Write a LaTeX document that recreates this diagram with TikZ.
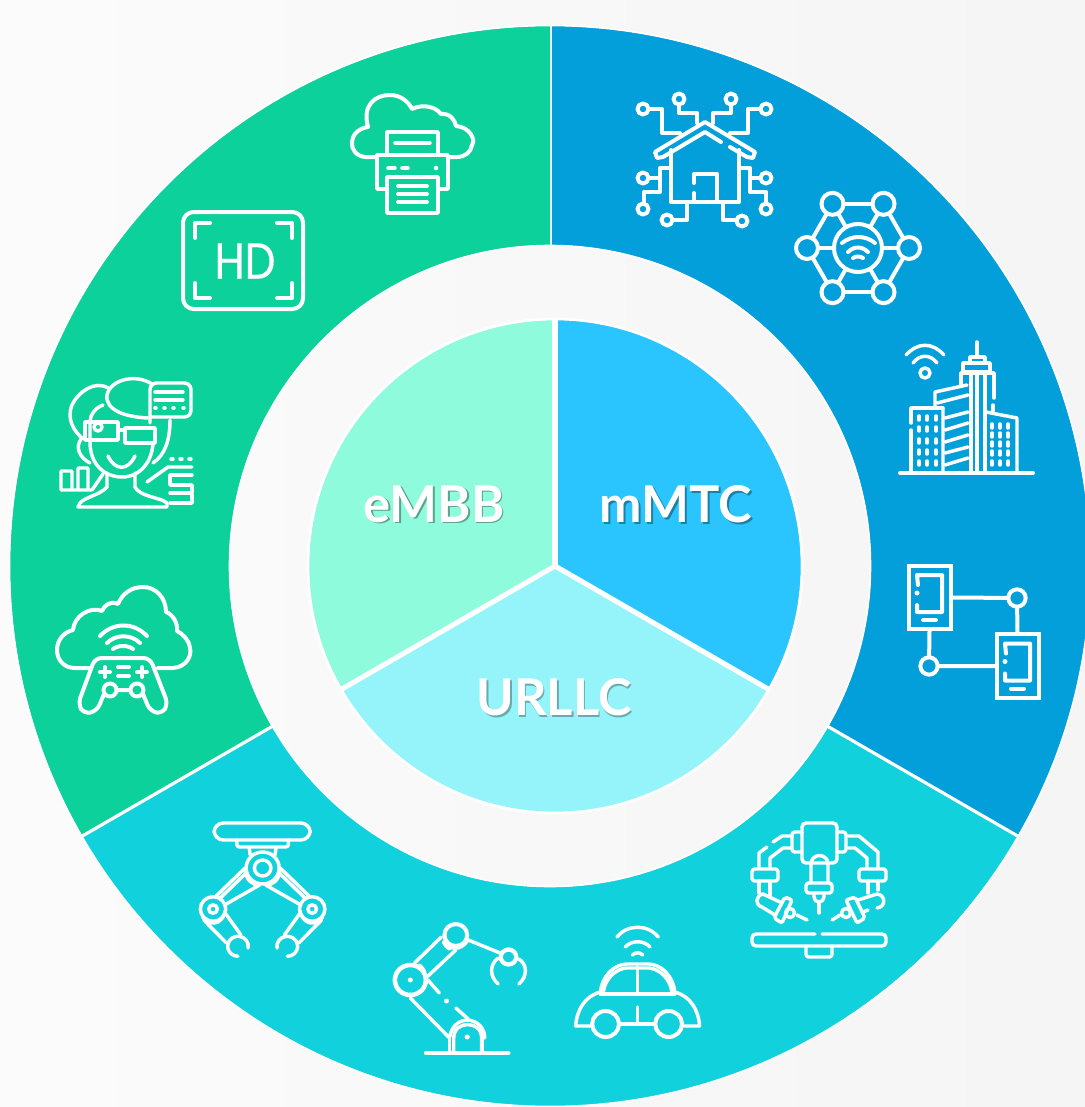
\documentclass[tikz,border=0pt]{standalone}
\usepackage{fontspec}
\setmainfont{Lato}
\newfontfamily\hdfont[FakeStretch=0.86,FakeBold=0.35]{Poppins}
\definecolor{ringgreen}{HTML}{0DD19A}
\definecolor{ringblue}{HTML}{039FDB}
\definecolor{ringteal}{HTML}{11D1DD}
\definecolor{coregreen}{HTML}{8DFBDC}
\definecolor{coreblue}{HTML}{2AC5FF}
\definecolor{coreteal}{HTML}{94F4FA}
\newcommand{\liftedtext}[2]{\leavevmode\rlap{\raisebox{-1.2pt}{\hspace{1.2pt}\textcolor{#1}{#2}}}\textcolor{white}{#2}}
\begin{document}
\begin{tikzpicture}[
		x=0.75pt,y=-0.75pt,
		icon/.style={draw=white,line width=3pt,line cap=round,line join=round},
		thinicon/.style={icon,line width=2.6pt},
		gap/.style={draw=white,line width=2.4pt},
		stretched/.style={shift={(180,0)},xscale=1.033,shift={(-180,0)}},
		corelabel/.style={font=\bfseries\fontsize{38}{38}\selectfont,inner sep=0pt},
		hubdot/.style={circle,draw=white,line width=3pt,inner sep=0pt,minimum size=16.5pt},
		tablet/.style={rectangle,draw=white,line width=3pt,inner sep=0pt,minimum width=31.5pt,minimum height=47.5pt}
	]
	\useasboundingbox (0,0) rectangle (1085,1107);
	\clip (0,0) rectangle (1085,1107);
	\shade[left color=black!1.5,right color=black!4] (0,0) rectangle (1085,1107);
	% outer ring
	\begin{scope}[shift={(550,566)}]
		\foreach \col/\from/\to in {ringblue/-90/30,ringteal/30/150,ringgreen/150/270} {
				\fill[\col] (\from:321) arc[start angle=\from,end angle=\to,radius=321]
				-- (\to:540) arc[start angle=\to,end angle=\from,radius=540] -- cycle;
				\draw[gap] (\from:321) -- (\from:540);
			}
		\draw[gap,line width=1.2pt] (0,0) circle[radius=320.5];
		\draw[gap,line width=1.2pt] (0,0) circle[radius=540.5];
	\end{scope}
	% core
	\begin{scope}[shift={(555,566)}]
		\foreach \col/\from/\to in {coreblue/-90/30,coreteal/30/150,coregreen/150/270} {
				\fill[\col] (0,0) -- (\from:246) arc[start angle=\from,end angle=\to,radius=246] -- cycle;
			}
		\foreach \from in {-90,30,150} {
				\draw[white,line width=3.8pt] (0,0) -- (\from:247);
			}
		\draw[white,line width=2pt] (0,0) circle[radius=247];
	\end{scope}
	\node[corelabel] (embb) at (434,505) {\liftedtext{black!35!coregreen}{eMBB}};
	\node[corelabel] (mmtc) at (676,505) {\liftedtext{black!35!coreblue}{mMTC}};
	\node[corelabel] (urllc) at (554,698) {\liftedtext{black!30!coreteal}{URLLC}};

	% smart home
	\draw[icon] (721,142) -- (705,132) -- (663,157) -- (657,158) -- (655,152) -- (705,122) -- (755,152) -- (753,158) -- (747,157) -- (730,147);
	\draw[icon] (671,150) -- (671,202) -- (739,202) -- (739,150);
	\draw[icon] (694,183) -- (694,174) -- (717,174) -- (717,202) (694,193) -- (694,202);
	\draw[icon] (650,109) -- (662,109) -- (662,133) -- (680,133);
	\draw[icon] (679,105) -- (679,113) -- (697,113) -- (697,123);
	\draw[icon] (731,105) -- (731,113) -- (713,113) -- (713,123);
	\draw[icon] (759,109) -- (748,109) -- (748,133) -- (730,133);
	\draw[icon] (671,168) -- (660,168) -- (660,192) -- (644,192) -- (644,203) (650,178) -- (660,178);
	\draw[icon] (739,168) -- (750,168) -- (750,192) -- (766,192) -- (766,203) (759,178) -- (750,178);
	\draw[icon] (687,203) -- (687,220) -- (673,220) (723,203) -- (723,220) -- (736,220);
	\foreach \cx/\cy in {643/109,679/99,731/99,766/109,643/178,643/209,766/178,766/209,667/220,742/221} {
			\draw[icon] (\cx,\cy) circle[radius=5.5];
		}

	% wifi hub
	\node[hubdot,minimum size=36pt] (hub) at (858,248) {};
	\begin{scope}[shift={(858,248)}]
		\foreach \a in {0,60,...,300} {
				\node[hubdot] (h\a) at (\a:51) {};
				\draw[icon] (hub) -- (h\a);
			}
	\end{scope}
	\foreach \a/\b in {0/60,60/120,120/180,180/240,240/300,300/0} {
			\draw[icon] (h\a) -- (h\b);
		}
	\draw[icon] (842,243) .. controls (852,235) and (865,235) .. (875,243);
	\draw[icon] (848,252) .. controls (854,246) and (862,246) .. (868,252);
	\draw[icon] (853,258) .. controls (856,256) and (860,256) .. (863,258);

	% smart city
	\draw[thinicon] (925,373) circle[radius=5];
	\draw[thinicon] (913,363) .. controls (920,354) and (930,354) .. (937,363);
	\draw[thinicon] (906,355) .. controls (918,342) and (932,342) .. (944,355);
	\draw[icon] (900,473) -- (1033,473);
	\draw[thinicon] (977,342) -- (977,355) (970,363) -- (970,357) -- (985,357) -- (985,363);
	\draw[thinicon] (963,372) -- (963,363) -- (990,363) -- (990,372) -- cycle;
	\draw[thinicon] (961,385) -- (961,373) -- (994,373) -- (994,398) (993,405) -- (993,411);
	\draw[thinicon] (971,373) -- (971,472) (977,372) -- (977,472) (985,372) -- (985,472);
	\draw[thinicon] (935,407) -- (935,392) -- (967,385) (937,403) -- (968,395) (943,408) -- (943,472);
	\foreach \yl/\yr in {418/412,430/423,442/435,453/447,465/458} {
			\draw[thinicon] (945,\yl) -- (968,\yr);
		}
	\draw[thinicon] (911,423) -- (911,408) -- (943,408) (911,430) -- (911,472);
	\draw[thinicon] (986,412) -- (1017,418) -- (1017,472);
	\foreach \wy in {418,429,441,452,463} {
			\foreach \wx in {919,927,936} {
					\draw[thinicon] (\wx,\wy-2) -- (\wx,\wy+2);
				}
		}
	\foreach \wy in {426,435,444,453,463} {
			\foreach \wx in {992,1000,1008} {
					\draw[thinicon] (\wx,\wy-2) -- (\wx,\wy+2);
				}
		}

	% linked tablets
	\node[tablet] (taba) at (929.5,597.5) {};
	\node[tablet] (tabb) at (1017.5,666) {};
	\node[hubdot,minimum size=13pt] (linka) at (1017,598) {};
	\node[hubdot,minimum size=13pt] (linkb) at (929,666) {};
	\draw[icon] (taba.east) -- (linka) -- (tabb.north);
	\draw[icon] (taba.south) -- (linkb) -- (tabb.west);
	\foreach \tx/\ty in {0/0,88/68.5} {
			\begin{scope}[shift={(\tx,\ty)}]
				\draw[icon] (918,585) -- (917,575) -- (942,575) -- (942,612) -- (917,612) -- (917,605);
				\fill[white] (917,593) circle[radius=2.5];
				\draw[icon] (923,620) -- (936,620);
			\end{scope}
		}

	% surgical robot
	\draw[thinicon,rounded corners=3pt] (802,823) rectangle (837,863);
	\draw[thinicon,rounded corners=2pt] (802,832) -- (792,832) -- (792,852) -- (802,852);
	\draw[thinicon,rounded corners=2pt] (837,832) -- (846,832) -- (846,852) -- (837,852);
	\draw[thinicon] (811,883) -- (811,864) arc[start angle=180,end angle=360,radius=8.5] -- (828,883);
	\draw[thinicon,rounded corners=2pt] (806,883) rectangle (832,893);
	\draw[thinicon] (814,893) -- (814,897) arc[start angle=180,end angle=0,radius=5] -- (824,893);
	\draw[thinicon] (819,903) -- (819,913);
	\draw[thinicon] (773,842) -- (782,836) -- (792,836) (792,848) -- (783,848) -- (770,858) -- (770,868);
	\draw[thinicon] (767,847) -- (759,853) -- (759,868);
	\draw[thinicon] (848,836) -- (859,836) -- (878,852) -- (878,868) (848,848) -- (855,848) -- (867,858) -- (867,868);
	\draw[thinicon,rounded corners=2pt] (752,869) rectangle (778,881) (859,869) rectangle (886,881);
	\draw[thinicon] (759,881) -- (759,893) (770,881) -- (770,895) (868,881) -- (868,893) (878,881) -- (878,890);
	\draw[thinicon] (780,902) -- (763,894) .. controls (755,896) and (755,905) .. (762,907) -- (775,915);
	\draw[thinicon] (858,900) -- (877,894) .. controls (886,895) and (886,907) .. (877,908);
	\draw[thinicon,rounded corners=1.5pt] (785,897) -- (792,900) -- (782,923) -- (774,918) -- cycle;
	\draw[thinicon,rounded corners=1.5pt] (846,900) -- (855,897) -- (865,918) -- (857,923) -- cycle;
	\draw[thinicon] (790,913) circle[radius=4.5] (846,913) circle[radius=4.5];
	\draw[thinicon] (797,915) -- (807,920) (840,915) -- (832,920) (863,912) -- (868,910);
	\draw[thinicon,rounded corners=3pt] (815,934) -- (752,934) -- (752,946) -- (886,946) -- (886,934) -- (822,934);
	\draw[thinicon,rounded corners=2pt] (806,946) -- (806,957) -- (832,957) -- (832,946);

	% gripper
	\begin{scope}[stretched]
		\draw[thinicon,rounded corners=7pt] (213,823) rectangle (306,840);
		\draw[thinicon,rounded corners=2pt] (235,840) -- (235,847) -- (285,847) -- (285,840);
		\draw[thinicon] (260,868) circle[radius=16] (260,868) circle[radius=8];
		\foreach \s in {1,-1} {
				\begin{scope}[shift={(260,0)},xscale=\s]
					\draw[thinicon] (-13,848) -- (-12,855);
					\draw[thinicon] (-48,909) circle[radius=12.3] (-48,909) circle[radius=4.2];
					\draw[thinicon] (-17,868) -- (-45,896) (-16,873) -- (-41,898) (-3,885) -- (-37,905);
					\draw[thinicon] (-17,870) .. controls (-16,880) and (-10,885) .. (-3,885);
					\draw[thinicon] (-37,912) -- (-21,935) (-57,920) -- (-35,943);
					\draw[thinicon] (-58,917) .. controls (-52,926) and (-41,925) .. (-37,914);
					\draw[thinicon] (-14,948) arc[start angle=10,end angle=-270,radius=10];
				\end{scope}
			}
	\end{scope}

	% robot arm
	\begin{scope}[stretched]
		\draw[icon] (418,1053) -- (498,1053);
		\draw[thinicon] (441,1053) -- (441,1038) (473,1053) -- (473,1035);
		\draw[thinicon] (445,1052) -- (445,1038) .. controls (445,1020) and (472,1020) .. (472,1038) -- (472,1052);
		\draw[thinicon] (441,1037) .. controls (443,1026) and (450,1020) .. (459,1020) .. controls (468,1021) and (475,1028) .. (475,1038);
		\fill[white] (458,1037) circle[radius=2.5];
		\draw[thinicon] (441,1038) -- (403,998) (459,1019) -- (447,1008) (431,993) -- (420,980);
		\fill[white] (438,1001) circle[radius=2.5];
		\draw[icon,line width=3.4pt] (403,980) circle[radius=15];
		\fill[white] (403,980) circle[radius=2.5];
		\draw[thinicon] (407,963) -- (433,937) (419,977) -- (447,950);
		\draw[thinicon] (435,942) .. controls (436,945) and (438,947) .. (441,949) (412,965) .. controls (414,967) and (416,970) .. (417,972);
		\draw[icon] (447,935) circle[radius=11];
		\draw[thinicon] (436,942) .. controls (440,950) and (452,951) .. (458,941);
		\draw[thinicon] (459,940) -- (490,953);
		\draw[icon,line width=3.2pt] (498,957) circle[radius=7.5];
		\draw[thinicon] (488,984) .. controls (479,976) and (480,964) .. (488,958);
		\draw[thinicon] (508,984) .. controls (517,976) and (516,964) .. (508,959);
	\end{scope}

	% connected car
	\begin{scope}[stretched]
		\draw[thinicon] (603,937) .. controls (613,924) and (633,924) .. (643,937);
		\draw[thinicon] (611,947) .. controls (617,940) and (629,940) .. (635,947);
		\draw[thinicon] (618,955) .. controls (621,952) and (625,952) .. (628,955);
		\draw[thinicon] (587,992) .. controls (589,975) and (600,965) .. (612,964) -- (634,964) .. controls (646,965) and (657,975) .. (659,992);
		\draw[thinicon] (590,991) .. controls (592,978) and (602,969) .. (612,968) -- (634,968) .. controls (644,969) and (654,978) .. (656,991);
		\draw[thinicon] (623,967) -- (623,993) (587,994) -- (659,994);
		\draw[thinicon] (587,992) .. controls (572,996) and (564,1010) .. (563,1026) -- (578,1026);
		\draw[thinicon] (659,992) .. controls (674,996) and (682,1010) .. (683,1026) -- (668,1026);
		\draw[thinicon] (606,1024) -- (639,1024) (623,1007) -- (623,1024);
		\draw[icon] (592,1024) circle[radius=13] (653,1024) circle[radius=13];
	\end{scope}

	% cloud printer
	\draw[icon] (377,157) -- (365,157) .. controls (347,155) and (347,130) .. (368,127) .. controls (362,105) and (375,95) .. (390,95) .. controls (400,95) and (408,101) .. (412,109) .. controls (422,104) and (435,106) .. (441,114) .. controls (450,113) and (455,120) .. (456,126) .. controls (470,127) and (476,140) .. (472,145) .. controls (471,152) and (465,157) .. (457,157) -- (448,157);
	\draw[thinicon] (387,155) -- (387,132) -- (438,132) -- (438,155);
	\draw[thinicon] (395,143) -- (430,143);
	\draw[thinicon] (377,155) -- (448,155) -- (448,189) -- (438,189) (387,189) -- (377,189) -- (377,155);
	\draw[thinicon] (387,177) rectangle (438,213);
	\foreach \py in {186,194,202} {
			\draw[icon] (398,\py) -- (427,\py);
		}
	\draw[thinicon] (388,168) -- (395,168) (402,168) -- (408,168);
	\fill[white] (436,168) circle[radius=2.3];

	% hd screen
	\draw[icon,rounded corners=8pt] (183,212) rectangle (303,309);
	\draw[icon] (195,238) -- (195,223) -- (210,223) (277,223) -- (292,223) -- (292,238);
	\draw[icon] (195,283) -- (195,298) -- (210,298) (277,298) -- (292,298) -- (292,283);
	\node[font=\hdfont\fontsize{38}{38}\selectfont,text=white,inner sep=0pt] (hdlabel) at (245,261) {HD};

	% ar user
	\draw[thinicon,rounded corners=5pt] (150,423) -- (150,383) -- (191,383) -- (191,417) -- (150,417);
	\draw[thinicon] (155,392) -- (183,392) (155,400) -- (183,400);
	\foreach \dx in {155,164,173,183} {
			\draw[thinicon] (\dx,408) -- (\dx+1,408);
		}
	\draw[thinicon] (148,418) .. controls (125,417) and (105,410) .. (107,395) .. controls (110,380) and (135,373) .. (152,384);
	\draw[thinicon] (108,388) .. controls (95,380) and (78,392) .. (72,405) .. controls (66,420) and (75,432) .. (82,438) .. controls (74,447) and (80,458) .. (90,463);
	\draw[thinicon] (103,405) .. controls (95,408) and (90,415) .. (90,422);
	\draw[thinicon] (90,442) .. controls (90,465) and (105,477) .. (122,477) .. controls (140,477) and (152,462) .. (153,443);
	\draw[thinicon] (170,420) .. controls (170,440) and (165,455) .. (153,463);
	\draw[thinicon] (85,422) rectangle (118,440) (125,428) rectangle (155,443) (118,430) -- (125,430);
	\draw[thinicon] (98,427) circle[radius=4] (90,422) -- (90,440);
	\draw[thinicon] (108,456) .. controls (115,471) and (128,471) .. (135,456);
	\draw[thinicon] (107,473) -- (107,487) .. controls (100,495) and (85,497) .. (80,503) -- (78,507) -- (167,507) -- (167,503) .. controls (160,497) and (140,497) .. (135,487) -- (135,473);
	\draw[thinicon] (92,490) -- (61,490) -- (61,471) -- (72,471) -- (72,490) (78,490) -- (78,468) -- (88,468) -- (88,490) (92,490) -- (103,474);
	\draw[thinicon] (147,482) -- (168,467) -- (192,467);
	\foreach \dx in {172,181,190} {
			\draw[thinicon] (\dx-1,459) -- (\dx+1,459);
		}
	\draw[thinicon] (192,475) -- (170,475) -- (170,485) -- (192,485) -- (192,493) -- (170,493) (170,503) -- (192,503) -- (192,495);

	% cloud gaming
	\draw[icon] (158,668) -- (173,668) .. controls (187,667) and (192,655) .. (190,648) .. controls (189,640) and (183,634) .. (177,631) .. controls (178,622) and (172,614) .. (166,612) .. controls (166,598) and (156,587) .. (143,587) .. controls (131,587) and (122,594) .. (118,604) .. controls (110,600) and (104,606) .. (102,611) .. controls (90,606) and (74,616) .. (73,630) .. controls (64,632) and (57,640) .. (57,650) .. controls (57,660) and (64,668) .. (75,668) -- (90,668);
	\draw[icon] (100,636) .. controls (113,622) and (134,622) .. (147,636);
	\draw[icon] (107,643) .. controls (116,634) and (131,634) .. (140,643);
	\draw[icon] (113,649) .. controls (118,645) and (128,645) .. (133,649);
	\draw[icon,rounded corners=5pt] (104,694) -- (97,711) -- (84,714) -- (78,704) -- (95,658) -- (150,658) -- (168,704) -- (162,714) -- (150,711) -- (143,694);
	\draw[icon] (110,690) circle[radius=6.5] (137,690) circle[radius=6.5] (117,690) -- (130,690);
	\draw[icon] (100,672) -- (110,672) (105,667) -- (105,677) (137,672) -- (147,672) (142,667) -- (142,677);
	\draw[icon] (118,667) -- (129,667) (118,676) -- (129,676);
\end{tikzpicture}
\end{document}
